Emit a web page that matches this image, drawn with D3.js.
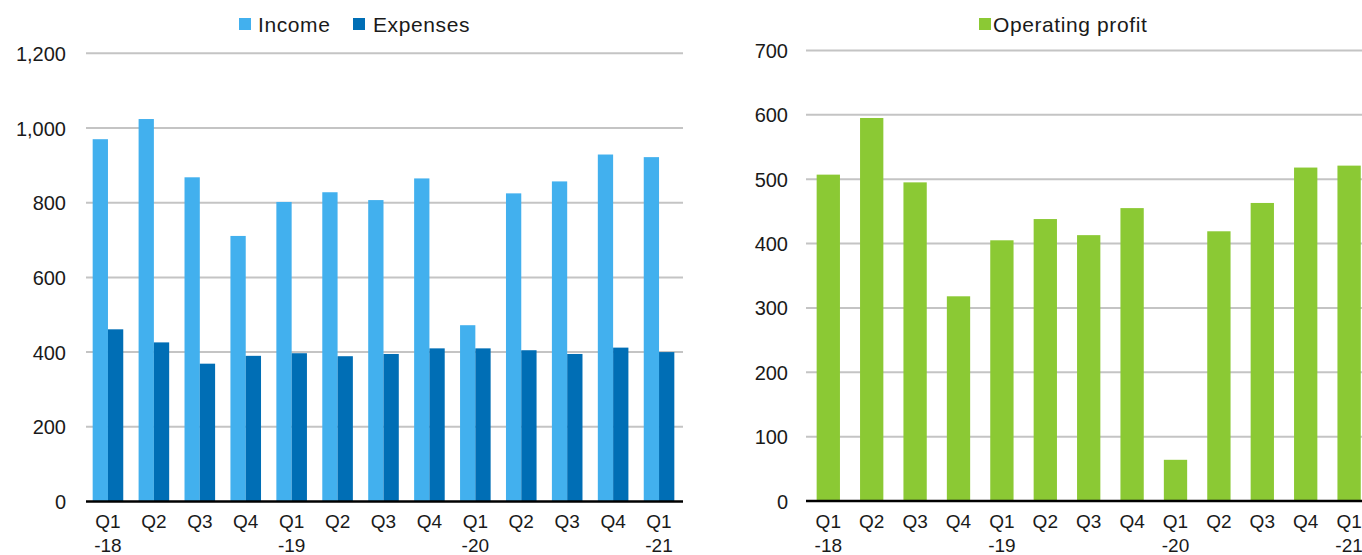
<!DOCTYPE html>
<html>
<head>
<meta charset="utf-8">
<script src="https://cdn.jsdelivr.net/npm/d3@7"></script>
<style>
  html, body { margin: 0; padding: 0; background: #fff; }
  svg { display: block; }
  text { font-family: "Liberation Sans", Arial, sans-serif; fill: #1a1a1a; }
</style>
</head>
<body>
<svg id="chart" width="1362" height="555"></svg>
<script>
// Quarterly categories (first line: quarter, second line: year marker)
const categories = ["Q1-18","Q2-18","Q3-18","Q4-18","Q1-19","Q2-19","Q3-19","Q4-19","Q1-20","Q2-20","Q3-20","Q4-20","Q1-21"];
const quarterLabels = ["Q1","Q2","Q3","Q4","Q1","Q2","Q3","Q4","Q1","Q2","Q3","Q4","Q1"];
const yearLabels = ["-18","","","","-19","","","","-20","","","","-21"];

// Series values
const income = [970, 1024, 868, 711, 802, 828, 807, 865, 472, 825, 857, 929, 922];
const expenses = [461, 426, 369, 390, 397, 389, 395, 410, 410, 405, 395, 412, 400];
const operatingProfit = [507, 595, 495, 318, 405, 438, 413, 455, 64, 419, 463, 518, 521];

// Axis ticks
const leftTicks = [0, 200, 400, 600, 800, 1000, 1200];
const rightTicks = [0, 100, 200, 300, 400, 500, 600, 700];

const colors = { income: "#42b0ee", expenses: "#006eb5", profit: "#8bc934" };
const gridColor = "#c4c4c4";

const svg = d3.select("#chart");
svg.append("rect").attr("width", 1362).attr("height", 555).attr("fill", "#fff");

function drawPanel(cfg) {
  const g = svg.append("g");
  const x = d3.scaleBand().domain(categories).range(cfg.xRange)
    .paddingInner(cfg.padding).paddingOuter(cfg.padding / 2);
  const y = d3.scaleLinear().domain(cfg.yDomain).range(cfg.yRange);

  // horizontal gridlines
  g.append("g").selectAll("line").data(cfg.ticks.filter(t => t !== 0)).join("line")
    .attr("x1", cfg.gridX[0]).attr("x2", cfg.gridX[1])
    .attr("y1", d => y(d)).attr("y2", d => y(d))
    .attr("stroke", gridColor).attr("stroke-width", 2);

  // y tick labels
  const yAxis = d3.axisLeft(y).tickValues(cfg.ticks).tickSize(0).tickPadding(0)
    .tickFormat(d3.format(","));
  const ya = g.append("g").attr("transform", `translate(${cfg.labelX},0)`).call(yAxis);
  ya.select(".domain").remove();
  ya.selectAll("text").attr("font-size", 20).attr("fill", "#1a1a1a")
    .attr("font-family", "Liberation Sans, Arial, sans-serif").attr("dy", "0.35em");

  // bars
  const sub = d3.scaleBand().domain(cfg.series.map(s => s.key)).range([0, x.bandwidth()]);
  cfg.series.forEach(s => {
    g.append("g").selectAll("rect").data(s.values).join("rect")
      .attr("x", (d, i) => x(categories[i]) + sub(s.key))
      .attr("width", sub.bandwidth())
      .attr("y", d => y(d))
      .attr("height", d => y(0) - y(d))
      .attr("fill", s.color);
  });

  // baseline
  g.append("line")
    .attr("x1", cfg.gridX[0]).attr("x2", cfg.gridX[1])
    .attr("y1", y(0)).attr("y2", y(0))
    .attr("stroke", "#000").attr("stroke-width", 2.5);

  // x labels (two lines)
  const xl = g.append("g").selectAll("text").data(categories).join("text")
    .attr("text-anchor", "middle")
    .attr("x", d => x(d) + x.bandwidth() / 2)
    .attr("y", 528)
    .attr("font-size", 19);
  xl.append("tspan").text((d, i) => quarterLabels[i]);
  xl.append("tspan").attr("x", d => x(d) + x.bandwidth() / 2).attr("dy", 24)
    .text((d, i) => yearLabels[i]);

  // legend
  const lg = g.append("g");
  cfg.legend.forEach(item => {
    lg.append("rect").attr("x", item.x).attr("y", 18).attr("width", 12).attr("height", 12)
      .attr("fill", item.color);
    lg.append("text").attr("x", item.x + item.gap).attr("y", 32)
      .attr("font-size", 21).attr("letter-spacing", 0.6).text(item.label);
  });
}

drawPanel({
  xRange: [85, 682],
  padding: 0.334,
  yDomain: [0, 1200],
  yRange: [501.5, 53.3],
  ticks: leftTicks,
  gridX: [86, 683],
  labelX: 66,
  series: [
    { key: "Income", values: income, color: colors.income },
    { key: "Expenses", values: expenses, color: colors.expenses }
  ],
  legend: [
    { label: "Income", color: colors.income, x: 239, gap: 19 },
    { label: "Expenses", color: colors.expenses, x: 353, gap: 20 }
  ]
});

drawPanel({
  xRange: [806.6, 1370.8],
  padding: 0.463,
  yDomain: [0, 700],
  yRange: [501, 50.4],
  ticks: rightTicks,
  gridX: [806, 1362],
  labelX: 788,
  series: [
    { key: "Operating profit", values: operatingProfit, color: colors.profit }
  ],
  legend: [
    { label: "Operating profit", color: colors.profit, x: 979, gap: 14 }
  ]
});
</script>
</body>
</html>
